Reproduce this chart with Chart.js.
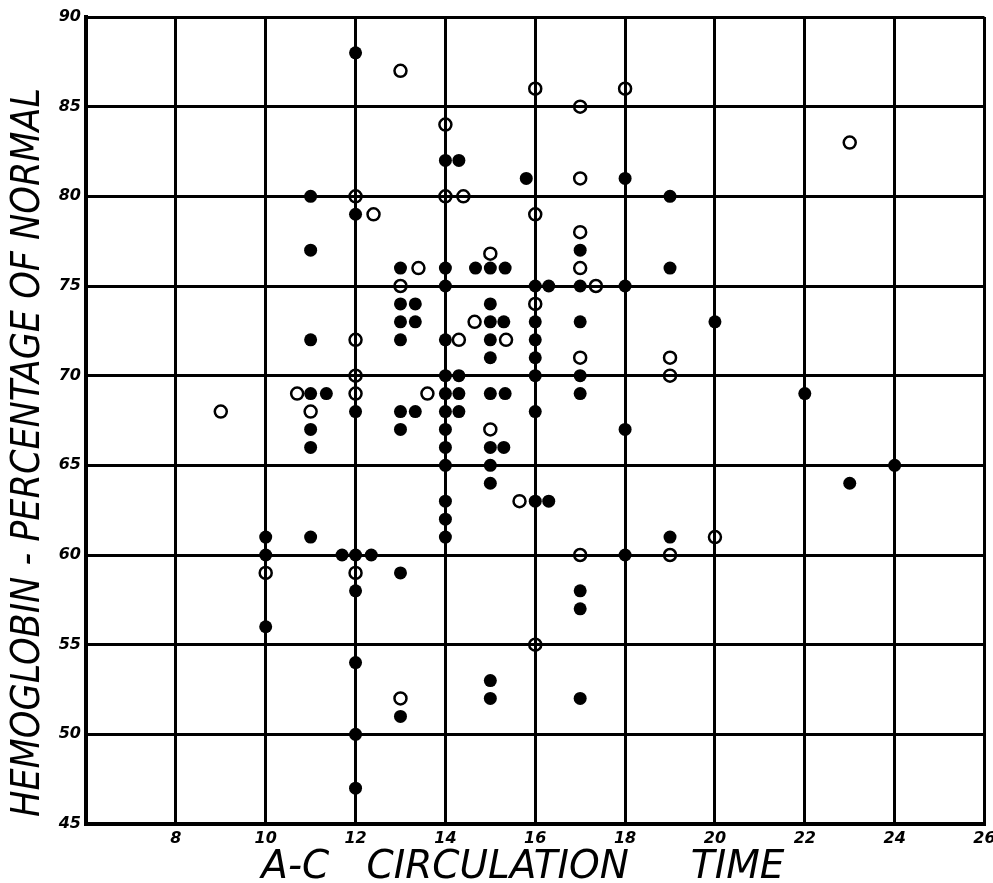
<!DOCTYPE html>
<html>
<head>
<meta charset="utf-8">
<script src="https://cdn.jsdelivr.net/npm/chart.js@4.4.1/dist/chart.umd.min.js"></script>
<style>
  html, body { margin: 0; padding: 0; background: #ffffff; }
</style>
</head>
<body>
<canvas id="grafico-hemoglobina" width="993" height="883"></canvas>
<script>
// puntos negros (rellenos)
const llenosX = [10, 10, 10,
    11, 11, 11, 11, 11.35, 11, 11, 11,
    12, 12, 12, 11.7, 12, 12.35, 12, 12, 12, 12,
    13, 13, 13.33, 13, 13.33, 13, 13, 13.33, 13, 13, 13,
    14, 14.3, 14, 14, 14, 14, 14.3, 14, 14.3, 14, 14.3, 14, 14, 14, 14, 14, 14,
    14.67, 15, 15.33, 15, 15, 15.3, 15, 15, 15, 15.33, 15, 15.3, 15, 15, 15, 15,
    15.8, 16, 16.3, 16, 16, 16, 16, 16, 16, 16.3,
    17, 17, 17, 17, 17, 17, 17, 17,
    18, 18, 18, 18,
    19, 19, 19,
    20, 22, 23, 24];
const llenosY = [61, 60, 56,
    80, 77, 72, 69, 69, 67, 66, 61,
    88, 79, 68, 60, 60, 60, 58, 54, 50, 47,
    76, 74, 74, 73, 73, 72, 68, 68, 67, 59, 51,
    82, 82, 76, 75, 72, 70, 70, 69, 69, 68, 68, 67, 66, 65, 63, 62, 61,
    76, 76, 76, 74, 73, 73, 72, 71, 69, 69, 66, 66, 65, 64, 53, 52,
    81, 75, 75, 73, 72, 71, 70, 68, 63, 63,
    77, 75, 73, 70, 69, 58, 57, 52,
    81, 75, 67, 60,
    80, 76, 61,
    73, 69, 64, 65];

// circulos abiertos
const abiertosX = [9, 10, 10.7, 11, 12, 12.4, 12, 12, 12, 12,
    13, 13.4, 13, 13.6, 13, 14, 14, 14.4, 14.3, 14.65,
    15, 15.35, 15, 15.65, 16, 16, 16, 16,
    17, 17, 17, 17, 17.35, 17, 17,
    18, 19, 19, 19, 20, 23];
const abiertosY = [68, 59, 69, 68, 80, 79, 72, 70, 69, 59,
    87, 76, 75, 69, 52, 84, 80, 80, 72, 73,
    76.8, 72, 67, 63, 86, 79, 74, 55,
    85, 81, 78, 76, 75, 71, 60,
    86, 71, 70, 60, 61, 83];

const ticksX = [8, 10, 12, 14, 16, 18, 20, 22, 24, 26];
const ticksY = [45, 50, 55, 60, 65, 70, 75, 80, 85, 90];

document.addEventListener("DOMContentLoaded", () => {
    inicializarGrafico();
});

function aPuntos(xs, ys) {
    return xs.map((x, i) => ({ x: x, y: ys[i] }));
}

function inicializarGrafico() {
    const ctx = document.getElementById('grafico-hemoglobina');
    const fuenteTicks = { family: "'DejaVu Sans', sans-serif", style: 'italic', weight: 'bold', size: 16 };
    const fuenteTituloX = { family: "'DejaVu Sans', sans-serif", style: 'italic', size: 39, lineHeight: 0.8 };
    const fuenteTituloY = { family: "'DejaVu Sans Condensed', 'Liberation Sans Narrow', sans-serif", style: 'italic', size: 39, lineHeight: 1.0 };

    new Chart(ctx, {
        type: 'scatter',
        data: {
            datasets: [
                {
                    label: 'llenos',
                    data: aPuntos(llenosX, llenosY),
                    backgroundColor: '#000000',
                    borderColor: '#000000',
                    borderWidth: 0,
                    pointRadius: 6.5
                },
                {
                    label: 'abiertos',
                    data: aPuntos(abiertosX, abiertosY),
                    backgroundColor: 'rgba(0,0,0,0)',
                    borderColor: '#000000',
                    borderWidth: 2.5,
                    pointRadius: 6
                }
            ]
        },
        options: {
            responsive: false,
            devicePixelRatio: 1,
            animation: false,
            layout: { padding: { top: 17, right: 8, left: 0, bottom: 0 } },
            plugins: {
                legend: { display: false },
                tooltip: { enabled: false }
            },
            scales: {
                x: {
                    type: 'linear',
                    min: 6,
                    max: 26,
                    afterBuildTicks: (eje) => { eje.ticks = [6].concat(ticksX).map(v => ({ value: v })); },
                    afterFit: (eje) => { eje.height = 59; eje.paddingRight = 0; eje.paddingLeft = 0; },
                    grid: { color: '#000', lineWidth: 3, drawTicks: false },
                    border: { color: '#000', width: 4 },
                    ticks: {
                        color: '#000',
                        font: fuenteTicks,
                        padding: 5,
                        maxRotation: 0,
                        callback: (v) => v === 6 ? '' : v
                    },
                    title: {
                        display: true,
                        text: 'A-C   CIRCULATION     TIME  ',
                        color: '#000',
                        font: fuenteTituloX,
                        padding: { top: 0, bottom: 0 }
                    }
                },
                y: {
                    min: 45,
                    max: 90,
                    afterBuildTicks: (eje) => { eje.ticks = ticksY.map(v => ({ value: v })); },
                    afterFit: (eje) => { eje.width = 86; },
                    grid: { color: '#000', lineWidth: 3, drawTicks: false },
                    border: { color: '#000', width: 4 },
                    ticks: {
                        color: '#000',
                        font: fuenteTicks,
                        padding: 5
                    },
                    title: {
                        display: true,
                        align: 'start',
                        text: '\u2009HEMOGLOBIN - PERCENTAGE OF NORMAL',
                        color: '#000',
                        font: fuenteTituloY,
                        padding: { top: 9, bottom: 0 }
                    }
                }
            }
        }
    });
}
</script>
</body>
</html>
